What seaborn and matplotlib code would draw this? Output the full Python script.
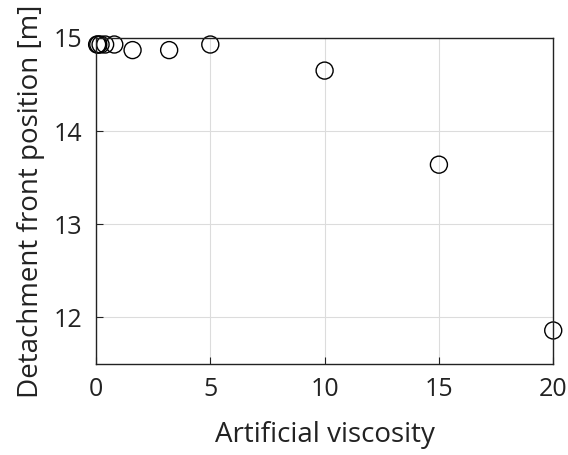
import matplotlib
matplotlib.use("Agg")
import matplotlib.pyplot as plt
import seaborn as sns
import pandas as pd

viscosity = [0.05, 0.1, 0.2, 0.4, 0.8, 1.6, 3.2, 5, 10, 15, 20]
front_position = [14.93, 14.93, 14.93, 14.93, 14.93, 14.87, 14.87, 14.93, 14.65, 13.64, 11.86]
x_ticks = [0, 5, 10, 15, 20]
y_ticks = [12, 13, 14, 15]

sns.set_theme(style="white")
plt.rcParams['font.family'] = ['Open Sans', 'DejaVu Sans']

df = pd.DataFrame({"x": viscosity, "y": front_position})

fig = plt.figure(figsize=(5.68, 4.55), dpi=100)
ax = fig.add_axes([0.169, 0.2, 0.805, 0.7165])
sns.scatterplot(data=df, x="x", y="y", ax=ax, marker="o", s=150,
                facecolors="none", edgecolor="black", linewidth=1.0, clip_on=False)
ax.set_xlim(0, 20)
ax.set_ylim(11.5, 15)
ax.set_xticks(x_ticks)
ax.set_yticks(y_ticks)
ax.grid(True, color="#dcdcdc", linewidth=0.8)
ax.set_axisbelow(True)
for s in ax.spines.values():
    s.set_color("#222222")
    s.set_linewidth(1.0)
ax.tick_params(direction="in", length=5, width=0.8, colors="#222222",
               labelsize=18, labelcolor="#222222", top=False, right=False,
               bottom=True, left=True)
ax.tick_params(axis="x", pad=9)
ax.tick_params(axis="y", pad=10)
ax.set_xlabel("Artificial viscosity", fontsize=20, color="#222222", labelpad=14)
ax.set_ylabel("Detachment front position [m]", fontsize=20, color="#222222", labelpad=6)
fig.savefig("out.png", dpi=100)
